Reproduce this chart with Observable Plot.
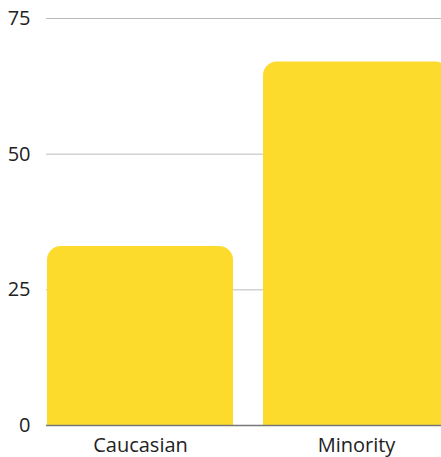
<!DOCTYPE html>
<html>
<head>
<meta charset="utf-8">
<script src="https://cdn.jsdelivr.net/npm/d3@7"></script>
<script src="https://cdn.jsdelivr.net/npm/@observablehq/plot@0.6"></script>
<style>
  html, body { margin: 0; padding: 0; overflow: hidden; background: #fff; }
  #chart svg { overflow: hidden; }
</style>
</head>
<body>
<div id="chart"></div>
<script>
const categories = ["Caucasian", "Minority"];
const values = [33, 67];
const yTicks = [0, 25, 50, 75];

const data = categories.map((c, i) => ({category: c, value: values[i]}));

const chart = Plot.plot({
  width: 441,
  height: 457,
  marginTop: 18,
  marginBottom: 32,
  marginLeft: 46,
  marginRight: 0,
  style: {fontFamily: "'Open Sans', sans-serif", fontSize: "20px", color: "#222", background: "#fff"},
  x: {domain: categories, range: [46, 450], paddingInner: 0.138, paddingOuter: 0, label: null},
  y: {domain: [0, 75], ticks: yTicks, label: null},
  marks: [
    Plot.gridY(yTicks.filter(d => d > 0), {stroke: "#bbb", strokeOpacity: 1, strokeWidth: 1}),
    Plot.barY(data, {x: "category", y: "value", fill: "#FDDB2C", ry1: 14}),
    Plot.ruleY([0], {stroke: "#777", strokeWidth: 1.5}),
    Plot.axisY({ticks: yTicks, tickSize: 0, tickPadding: 16, fontSize: 20}),
    Plot.axisX({tickSize: 0, tickPadding: 12, fontSize: 20})
  ]
});
document.getElementById("chart").appendChild(chart);
</script>
</body>
</html>
